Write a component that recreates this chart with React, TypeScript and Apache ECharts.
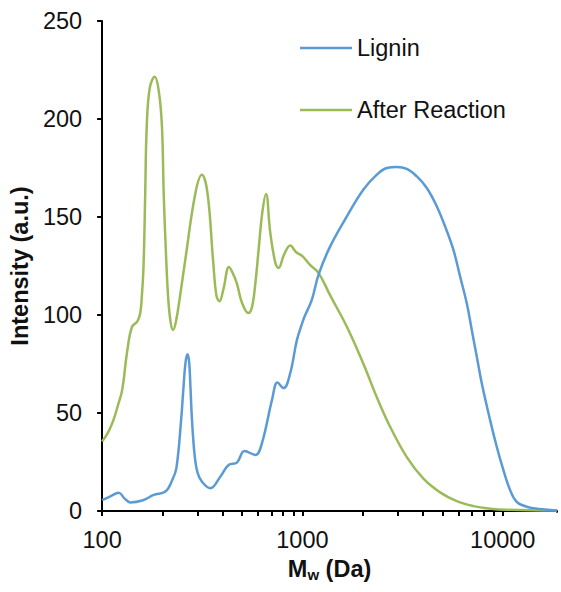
import React, { useEffect, useRef } from "react";
import * as echarts from "echarts";

// Lignin GPC trace (Mw in Da, intensity in a.u.)
const ligninMw = [100, 110, 121, 130, 138, 160, 181, 207, 224, 235, 248, 255, 261, 267, 272, 276, 281, 290, 300, 315, 347, 389, 428, 471, 514, 582, 628, 705, 751, 805, 869, 939, 1010, 1033, 1115, 1203, 1376, 1667, 2017, 2353, 2639, 2960, 3320, 3725, 4178, 4687, 5155, 5669, 6124, 6614, 7005, 7419, 7858, 8645, 9335, 10070, 10880, 11740, 13170, 15350, 18660];
const ligninIntensity = [5.6, 7.5, 9.3, 6.2, 4.4, 5.5, 8.2, 9.9, 15.8, 22, 46.5, 63.5, 76, 80, 76, 63.5, 46.5, 28, 19.3, 15, 11.6, 17.5, 23.5, 24.7, 30.6, 28.6, 34.6, 56.7, 65.5, 62.7, 70.3, 87.3, 97.5, 100, 107.8, 120.5, 135, 150.3, 164, 171.6, 175, 175.5, 174.5, 170.7, 164.8, 155.4, 145.2, 133.3, 119.7, 106, 92.4, 78.8, 65.2, 46.5, 32.8, 21, 10.7, 4.7, 2.2, 1.0, 0.3];

// After reaction trace
const afterMw = [100, 107, 114, 120, 126, 133, 141, 150, 155, 158, 161, 164, 167, 173, 183, 192, 199, 203, 209, 214, 220, 226, 234, 246, 260, 292, 315, 336, 358, 372, 385, 403, 430, 455, 471, 500, 537, 560, 582, 604, 630, 658, 691, 733, 760, 811, 869, 931, 1000, 1094, 1203, 1376, 1667, 2017, 2353, 2741, 3320, 4018, 4868, 5896, 7136, 8645, 10470, 18660];
const afterIntensity = [35.5, 40, 46.5, 54, 61.8, 80.5, 94, 96.7, 101, 110, 125, 160, 196, 216, 221.5, 214, 196, 162, 128, 108, 96, 92.4, 97, 111, 128, 162, 171.5, 162, 128, 110, 107, 113, 124.5, 120, 116, 106, 101, 104, 116, 133, 152, 161.7, 142, 126.5, 124, 131, 135.5, 132, 130, 125.4, 121.5, 110, 94, 75, 58, 43, 27.5, 16.5, 9.5, 5, 2.5, 1.2, 0.6, 0.2];

const xMinorSplits = 9; // 200..900, 2000..9000 between decades
const xMin = 100;
const xMax = 18660;
const yMin = 0;
const yMax = 250;
const yStep = 50;

const seriesNames = ["Lignin", "After Reaction"];
const seriesColors = ["#5B9BD5", "#9BBB59"];

export default function App() {
  const ref = useRef<HTMLDivElement>(null);
  useEffect(() => {
    const chart = echarts.init(ref.current!, null, { renderer: "svg" });
    const font = "'Liberation Sans', Arial, Helvetica, sans-serif";
    const textColor = "#111";
    const isDecade = (v: number) => Math.abs(Math.log10(v) - Math.round(Math.log10(v))) < 1e-6;
    chart.setOption({
      animation: false,
      grid: { left: 102, right: 4, top: 21, bottom: 81, containLabel: false },
      legend: {
        orient: "vertical",
        left: 300,
        top: 36,
        padding: 0,
        icon: "rect",
        itemWidth: 52,
        itemHeight: 2.5,
        itemGap: 38,
        textStyle: { fontSize: 23.5, color: textColor, fontFamily: font },
        data: seriesNames,
      },
      // masks the extra tick that the log axis adds at its (non-decade) max
      graphic: [
        {
          type: "rect",
          x: 552,
          y: 512.6,
          shape: { x: 0, y: 0, width: 9, height: 8 },
          style: { fill: "#fff" },
          z: 100,
          silent: true,
        },
      ],
      xAxis: {
        type: "log",
        logBase: 10,
        min: xMin,
        max: xMax,
        name: "{m|M}{s|w}{n| (Da)}",
        nameLocation: "middle",
        nameGap: 38,
        nameTextStyle: {
          rich: {
            m: { fontSize: 23.5, fontWeight: "bold", color: textColor, fontFamily: font },
            s: { fontSize: 15, fontWeight: "bold", color: textColor, fontFamily: font, padding: [12, 0, 0, 0] },
            n: { fontSize: 23.5, fontWeight: "bold", color: textColor, fontFamily: font },
          },
        },
        axisLine: { show: true, lineStyle: { color: "#000", width: 2 } },
        axisTick: { show: true, inside: false, length: 5, lineStyle: { color: "#000", width: 2 } },
        minorTick: { show: true, splitNumber: xMinorSplits, length: 5, lineStyle: { color: "#000", width: 2 } },
        axisLabel: {
          fontSize: 23.5,
          color: textColor,
          margin: 17,
          fontFamily: font,
          showMaxLabel: false,
          formatter: (v: number) => (isDecade(v) ? String(Math.round(v)) : ""),
        },
        splitLine: { show: false },
        minorSplitLine: { show: false },
      },
      yAxis: {
        type: "value",
        min: yMin,
        max: yMax,
        interval: yStep,
        name: "Intensity (a.u.)",
        nameLocation: "middle",
        nameGap: 70,
        nameTextStyle: { fontSize: 23.5, fontWeight: "bold", color: textColor, fontFamily: font },
        axisLine: { show: true, lineStyle: { color: "#000", width: 2 } },
        axisTick: { show: true, inside: false, length: 5, lineStyle: { color: "#000", width: 2 } },
        axisLabel: { fontSize: 23.5, color: textColor, margin: 20, fontFamily: font },
        splitLine: { show: false },
      },
      series: [
        {
          name: seriesNames[0],
          type: "line",
          data: ligninMw.map((m, i) => [m, ligninIntensity[i]]),
          symbol: "none",
          smooth: 0.4,
          lineStyle: { color: seriesColors[0], width: 2.5 },
          itemStyle: { color: seriesColors[0] },
          z: 3,
        },
        {
          name: seriesNames[1],
          type: "line",
          data: afterMw.map((m, i) => [m, afterIntensity[i]]),
          symbol: "none",
          smooth: 0.4,
          lineStyle: { color: seriesColors[1], width: 2.5 },
          itemStyle: { color: seriesColors[1] },
          z: 2,
        },
      ],
    });
    return () => chart.dispose();
  }, []);
  return <div ref={ref} style={{ position: "absolute", left: 0, top: 0, width: 561, height: 592 }} />;
}
